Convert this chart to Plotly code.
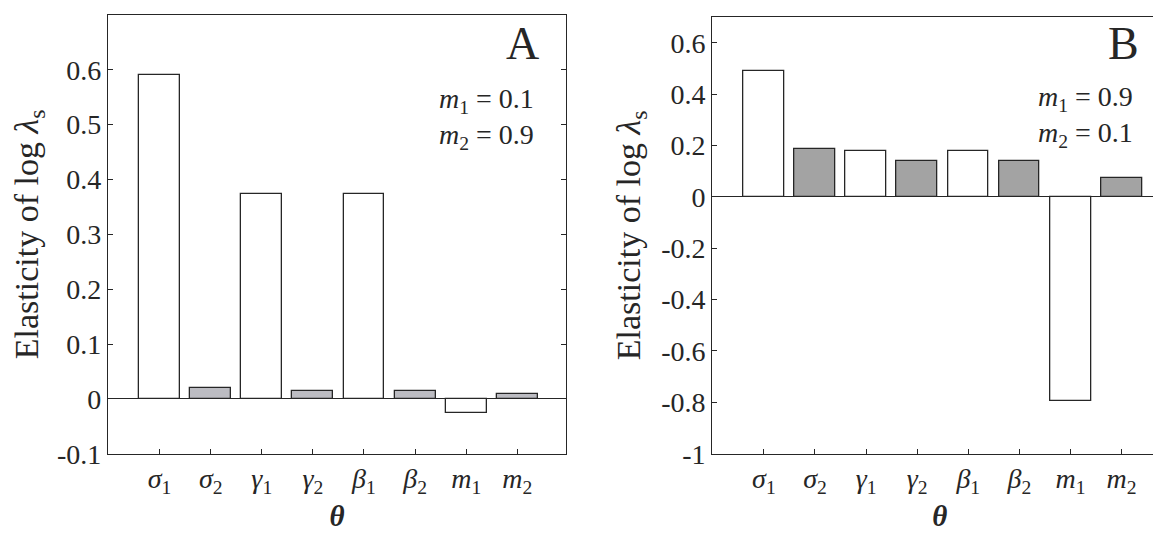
import plotly.graph_objects as go

# ---- data ----
params = ["<i>σ</i><sub>1</sub>", "<i>σ</i><sub>2</sub>", "<i>γ</i><sub>1</sub>", "<i>γ</i><sub>2</sub>",
          "<i>β</i><sub>1</sub>", "<i>β</i><sub>2</sub>", "<i>m</i><sub>1</sub>", "<i>m</i><sub>2</sub>"]
elast_A = [0.591, 0.019, 0.374, 0.015, 0.374, 0.015, -0.025, 0.0095]
elast_B = [0.490, 0.185, 0.178, 0.141, 0.178, 0.141, -0.793, 0.075]
yticks_A = [-0.1, 0, 0.1, 0.2, 0.3, 0.4, 0.5, 0.6]
ytext_A = ["-0.1", "0", "0.1", "0.2", "0.3", "0.4", "0.5", "0.6"]
yticks_B = [-1, -0.8, -0.6, -0.4, -0.2, 0, 0.2, 0.4, 0.6]
ytext_B = ["-1", "-0.8", "-0.6", "-0.4", "-0.2", "0", "0.2", "0.4", "0.6"]
label_A = "<i>m</i><sub>1</sub> = 0.1<br><i>m</i><sub>2</sub> = 0.9"
label_B = "<i>m</i><sub>1</sub> = 0.9<br><i>m</i><sub>2</sub> = 0.1"

FONT = "Liberation Serif, Times New Roman, serif"
INK = "#262626"
W, H = 1161, 534

idx = list(range(len(params)))
fill_A = ["white" if i % 2 == 0 else "#bcbcc2" for i in idx]
fill_B = ["white" if i % 2 == 0 else "#a3a3a3" for i in idx]

fig = go.Figure()
fig.add_trace(go.Bar(x=idx, y=elast_A, width=0.8, xaxis="x", yaxis="y",
                     marker=dict(color=fill_A, line=dict(color=INK, width=1.3)),
                     showlegend=False))
fig.add_trace(go.Bar(x=idx, y=elast_B, width=0.8, xaxis="x2", yaxis="y2",
                     marker=dict(color=fill_B, line=dict(color=INK, width=1.3)),
                     showlegend=False))

def xax(domain, rng):
    return dict(domain=domain, range=rng, tickmode="array", tickvals=idx, ticktext=params,
                ticks="inside", ticklen=5, tickwidth=1, tickcolor=INK,
                showline=True, linecolor=INK, linewidth=1.3, mirror=True,
                showgrid=False, zeroline=False, automargin=False,
                tickfont=dict(family=FONT, size=28, color=INK),
                title=dict(text="<b><i>θ</i></b>", font=dict(family=FONT, size=29, color=INK), standoff=8))

def yax(domain, rng, tv, tt, anchor):
    return dict(domain=domain, range=rng, anchor=anchor, tickmode="array", tickvals=tv, ticktext=tt,
                ticks="inside", ticklen=5, tickwidth=1, tickcolor=INK,
                showline=True, linecolor=INK, linewidth=1.3, mirror="ticks",
                showgrid=False, zeroline=True, zerolinecolor=INK, zerolinewidth=1.3, automargin=False,
                tickfont=dict(family=FONT, size=28, color=INK),
                title=dict(text="Elasticity of log <i>λ</i><sub>s</sub>",
                           font=dict(family=FONT, size=34, color=INK), standoff=10))

yA = [1 - 445.7 / H, 1 - 7 / H]
yB = [1 - 445.7 / H, 1 - 9 / H]
fig.update_layout(
    width=W, height=H, margin=dict(l=0, r=0, t=0, b=0, pad=0, autoexpand=False),
    paper_bgcolor="white", plot_bgcolor="white", bargap=0,
    xaxis=dict(**xax([100 / W, 558.3 / W], [-1.01, 7.96]), anchor="y"),
    yaxis=yax(yA, [-0.1, 0.7], yticks_A, ytext_A, "x"),
    xaxis2=dict(**xax([704.3 / W, 1159.5 / W], [-1.01, 7.9]), anchor="y2"),
    yaxis2=yax(yB, [-1, 0.7], yticks_B, ytext_B, "x2"),
)

fig.add_annotation(text="A", x=533 / W, y=1 - 35 / H, xref="paper", yref="paper",
                   xanchor="right", yanchor="middle", showarrow=False,
                   font=dict(family=FONT, size=46, color=INK))
fig.add_annotation(text=label_A, x=528 / W, y=1 - 110 / H, xref="paper", yref="paper",
                   xanchor="right", yanchor="middle", align="right", showarrow=False,
                   font=dict(family=FONT, size=28, color=INK))
fig.add_annotation(text="B", x=1133 / W, y=1 - 36 / H, xref="paper", yref="paper",
                   xanchor="right", yanchor="middle", showarrow=False,
                   font=dict(family=FONT, size=46, color=INK))
fig.add_annotation(text=label_B, x=1127 / W, y=1 - 108 / H, xref="paper", yref="paper",
                   xanchor="right", yanchor="middle", align="right", showarrow=False,
                   font=dict(family=FONT, size=28, color=INK))

fig.write_html("out.html")
